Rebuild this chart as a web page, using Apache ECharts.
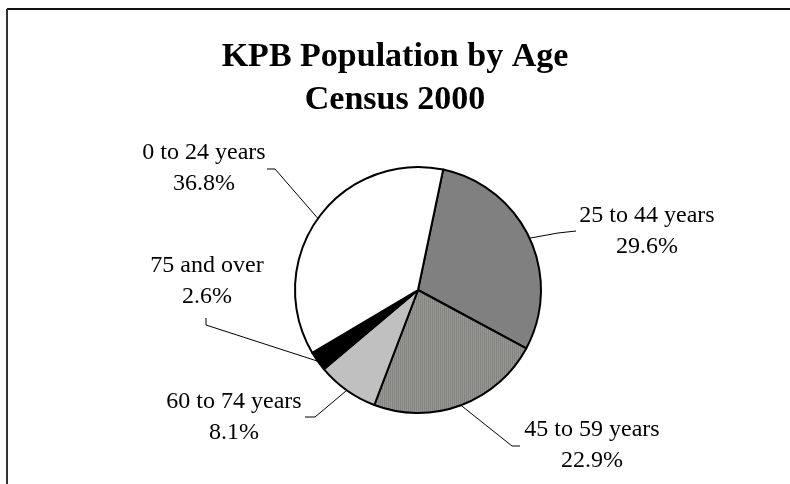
<!DOCTYPE html>
<html>
<head>
<meta charset="utf-8">
<style>
  html, body { margin: 0; padding: 0; background: #fff; }
  #chart { width: 790px; height: 484px; }
</style>
<script src="https://cdn.jsdelivr.net/npm/echarts@6/dist/echarts.min.js"></script>
</head>
<body>
<div id="chart"></div>
<script>
// slices in clockwise order, starting just right of 12 o'clock
const ageGroups = ['25 to 44 years', '45 to 59 years', '60 to 74 years', '75 and over', '0 to 24 years'];
const sharePct = [29.6, 22.9, 8.1, 2.6, 36.8];

// label placement (text centre + leader bend), Excel style
const labelSpots = [
  { x: 647, y: 231, bend: [558, 233], end: [576, 231] },
  { x: 592, y: 445, bend: [512, 446], end: [520, 446] },
  { x: 234, y: 417, bend: [315, 417], end: [305, 417] },
  { x: 207, y: 281, bend: [206, 325], end: [206, 318] },
  { x: 204, y: 168, bend: [275, 169], end: [267, 169] },
];

function dotPattern() {
  const c = document.createElement('canvas');
  c.width = 2; c.height = 2;
  const g = c.getContext('2d');
  g.fillStyle = '#838383'; g.fillRect(0, 0, 2, 2);
  g.fillStyle = '#959592'; g.fillRect(1, 0, 1, 2);
  g.fillStyle = '#9a9c90'; g.fillRect(1, 1, 1, 1);
  return c;
}

const sliceFill = ['#808080', { image: dotPattern(), repeat: 'repeat' }, '#c0c0c0', '#000000', '#ffffff'];

const chart = echarts.init(document.getElementById('chart'));
chart.setOption({
  backgroundColor: '#ffffff',
  animation: false,
  title: {
    text: 'KPB Population by Age\nCensus 2000',
    left: 'center',
    top: 36,
    padding: 0,
    textStyle: {
      fontFamily: 'Liberation Serif',
      fontSize: 34,
      fontWeight: 'bold',
      lineHeight: 43,
      color: '#000',
    },
  },
  graphic: [
    { type: 'line', shape: { x1: 7, y1: 9, x2: 790, y2: 9 }, style: { stroke: '#111', lineWidth: 2 } },
    { type: 'line', shape: { x1: 7, y1: 9, x2: 7, y2: 484 }, style: { stroke: '#333', lineWidth: 2 } },
  ],
  series: [{
    type: 'pie',
    center: [418, 290],
    radius: 123,
    startAngle: 78.2,
    clockwise: true,
    silent: true,
    itemStyle: { borderColor: '#000', borderWidth: 2 },
    label: {
      show: true,
      position: 'outside',
      color: '#000',
      fontFamily: 'Liberation Serif',
      fontSize: 24,
      lineHeight: 31,
      align: 'center',
      formatter: p => p.name + '\n' + p.value.toFixed(1) + '%',
    },
    labelLine: { show: true, lineStyle: { color: '#000', width: 1 } },
    labelLayout: params => {
      const s = labelSpots[params.dataIndex];
      const start = params.labelLinePoints ? params.labelLinePoints[0] : s.bend;
      return {
        x: s.x,
        y: s.y,
        align: 'center',
        verticalAlign: 'middle',
        labelLinePoints: [start, s.bend, s.end],
      };
    },
    data: ageGroups.map((name, i) => ({
      name,
      value: sharePct[i],
      itemStyle: { color: sliceFill[i] },
    })),
  }],
});
</script>
</body>
</html>
